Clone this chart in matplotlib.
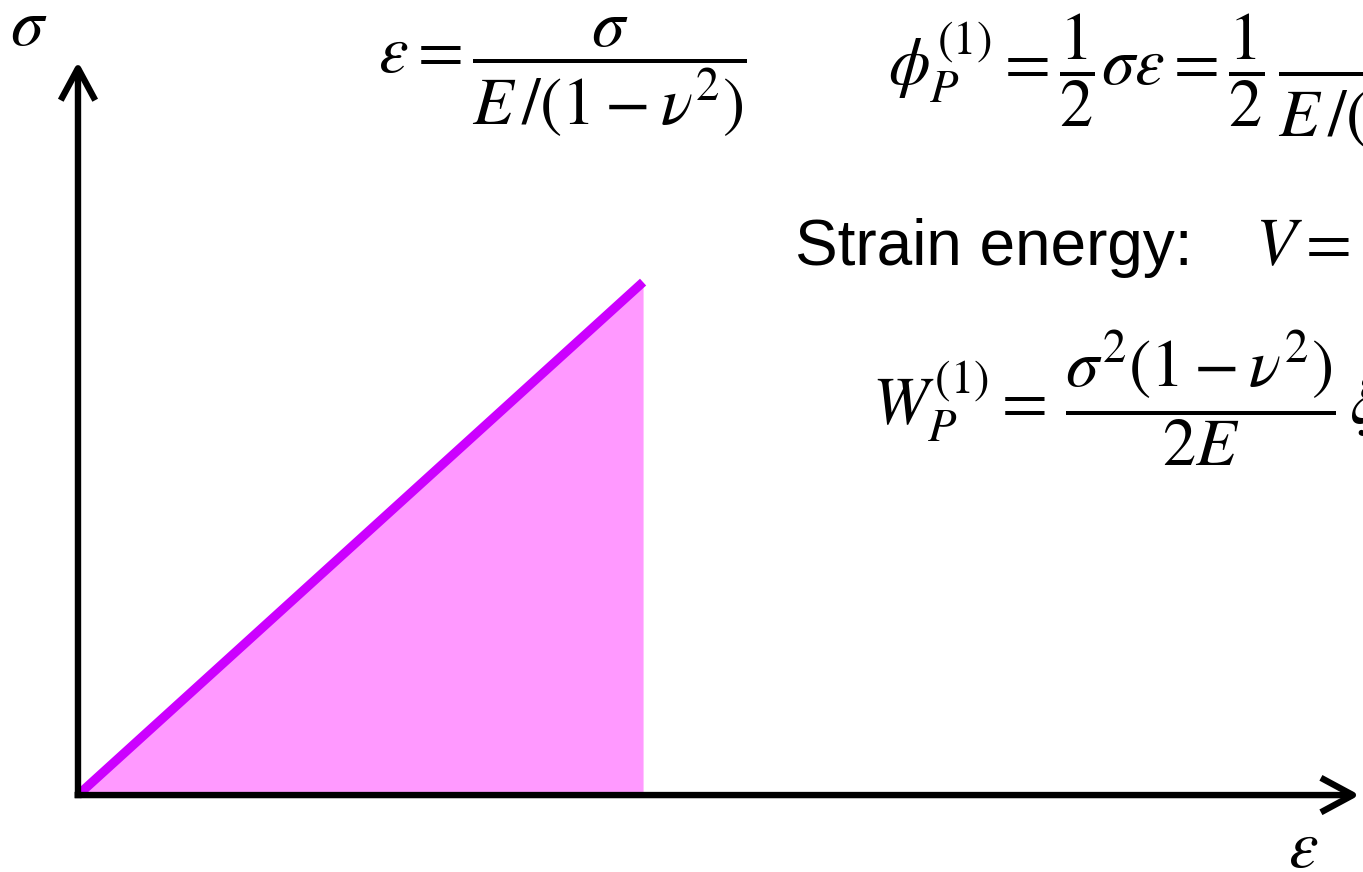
import matplotlib
matplotlib.use("Agg")
import matplotlib.pyplot as plt

# linear elastic loading: normalised strain / stress at the end point
strain = [0.0, 1.0]
stress = [0.0, 1.0]

plt.rcParams['mathtext.fontset'] = 'stix'
plt.rcParams['font.family'] = 'Liberation Sans'

W, H = 1363, 872
fig = plt.figure(figsize=(W / 100, H / 100), dpi=100, facecolor='white')
ax = fig.add_axes([0, 0, 1, 1])
ax.set_xlim(-0.138, 2.274)
ax.set_ylim(-0.150, 1.550)
ax.axis('off')

# shaded work area under the curve + the loading line
ax.fill_between(strain, stress, 0, color='#FF99FF', linewidth=0, zorder=1)
ax.plot(strain, stress, color='#CC00FF', lw=6.6, solid_capstyle='butt', zorder=3)

# coordinate axes with open arrow heads
arrow = dict(arrowstyle='->,head_length=1.15,head_width=0.62', lw=4.6,
             color='black', mutation_scale=20, capstyle='butt',
             joinstyle='round', shrinkA=0, shrinkB=0)
ax.annotate('', xy=(2.268, 0), xytext=(-0.006, 0), arrowprops=arrow, zorder=4)
ax.annotate('', xy=(0, 1.43), xytext=(0, -0.006), arrowprops=arrow, zorder=4)


def put(x, y, s, **kw):
    fig.text(x / W, 1 - y / H, s, **kw)


fs = 48
put(10, 28, r'$\sigma$', fontsize=fs, va='center', ha='left')
put(1303, 850, r'$\varepsilon$', fontsize=fs, va='center', ha='center')

put(378, 77, r'$\varepsilon=\dfrac{\sigma}{E\,/(1-\nu^2)}$',
    fontsize=fs, va='center', ha='left')
put(888, 76, r'$\phi_P^{(1)}=\dfrac{1}{2}\sigma\varepsilon=\dfrac{1}{2}\,\dfrac{\sigma^2}{E\,/(1-\nu^2)}$',
    fontsize=fs, va='center', ha='left')

put(795, 265, 'Strain energy:', fontsize=46, va='baseline', ha='left')
put(1255, 265, r'$V=\int_A \phi_P^{(1)}\,dA$', fontsize=fs, va='baseline', ha='left')

put(872, 398, r'$W_P^{(1)}=\,\dfrac{\sigma^2(1-\nu^2)}{2E}\,\xi$',
    fontsize=fs, va='center', ha='left')

fig.savefig('out.png', dpi=100, facecolor='white')
